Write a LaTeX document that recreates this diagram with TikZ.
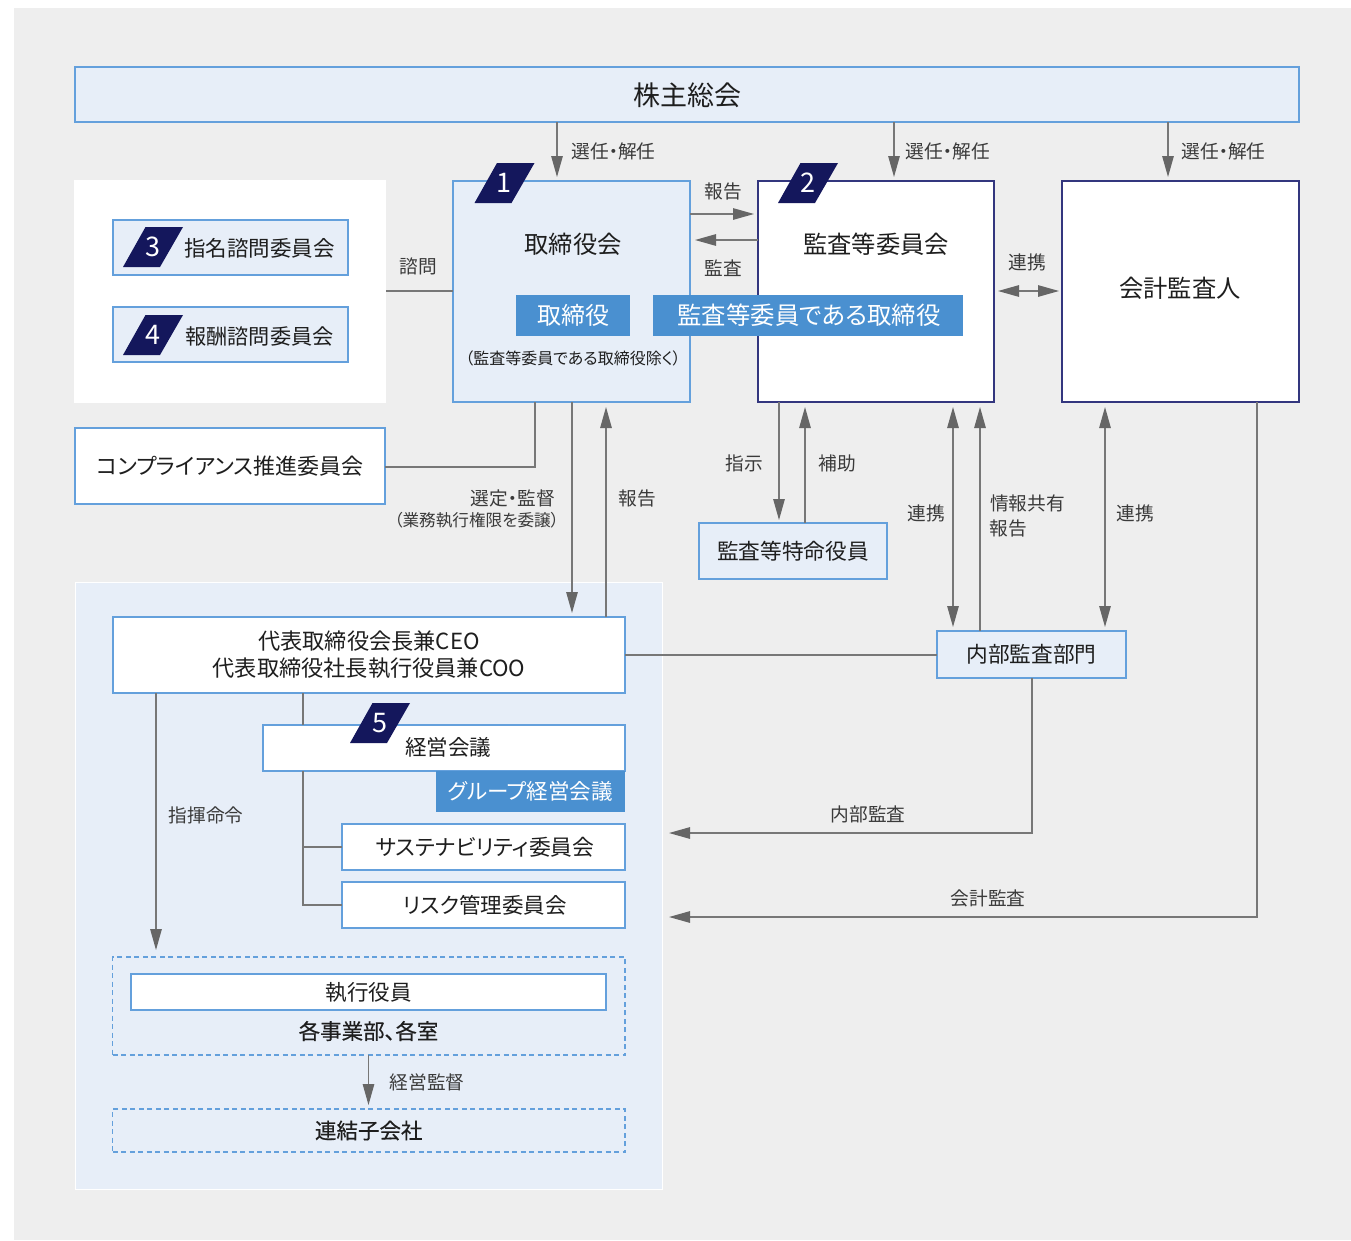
\documentclass[tikz,border=0pt]{standalone}
\usepackage{fontspec}
\setmainfont[RawFeature=+palt]{Noto Sans CJK JP}
\newfontfamily\medfont[RawFeature=+palt,FakeBold=0.35]{Noto Sans CJK JP}
\usetikzlibrary{arrows.meta,calc}
\definecolor{bggray}{HTML}{EEEEEE}
\definecolor{paleblue}{HTML}{E7EEF8}
\definecolor{edgeblue}{HTML}{64A0DC}
\definecolor{solidblue}{HTML}{4A90D0}
\definecolor{navy}{HTML}{14175C}
\definecolor{navyline}{HTML}{33367E}
\definecolor{linegray}{HTML}{777777}
\definecolor{headgray}{HTML}{666666}
\definecolor{labelgray}{HTML}{3A3A3A}
\definecolor{textdark}{HTML}{1E1E1E}
\newcommand{\fsz}[1]{\fontsize{#1}{#1}\selectfont}
\newcommand{\bx}[7]{\node[#6,minimum width={#4-#2},minimum height={#5-#3}] (#1) at ({(#2+#4)/2},{(#3+#5)/2}) {#7};}
\newcommand{\badge}[4]{\fill[navy] (#2-30,#3+20) -- (#2+7,#3+20) -- (#2+30,#3-20) -- (#2-7.5,#3-20) -- cycle;
  \node[badgetext] (#1) at (#2-0.5,#3) {#4};}
\tikzset{
  x=1pt,y=-1pt,
  base/.style={inner sep=0pt,outer sep=0pt,align=center,text=textdark},
  palebox/.style={base,draw=edgeblue,fill=paleblue,line width=1.05pt},
  whitebox/.style={base,draw=edgeblue,fill=white,line width=1.05pt},
  navybox/.style={base,draw=navyline,fill=white,line width=1.05pt},
  solidbox/.style={base,fill=solidblue,text=white},
  dashbox/.style={base,draw=edgeblue,line width=1.35pt,dash pattern=on 5pt off 3.5pt},
  panel/.style={base,fill=paleblue,draw=white,line width=1pt},
  plain/.style={base,fill=white},
  boxtext/.style={base,font=\fsz{21.5}},
  headtext/.style={base,font=\fsz{24.3}},
  lab/.style={base,text=labelgray,font=\fsz{18.7}},
  badgetext/.style={base,text=white,font=\fsz{27}},
  conn/.style={draw=linegray,line width=1.2pt},
  arr/.style={conn,-{Triangle[length=21pt,width=11.5pt,color=headgray]}},
  arrh/.style={conn,-{Triangle[length=21pt,width=11.5pt,color=headgray]}},
  arrb/.style={conn,{Triangle[length=21pt,width=11.5pt,color=headgray]}-{Triangle[length=21pt,width=11.5pt,color=headgray]}},
}
\begin{document}
\begin{tikzpicture}
\useasboundingbox (0,0) rectangle (1351,1240);
\fill[bggray] (14,8) rectangle (1351,1240);
\bx{advpanel}{74}{180}{386}{403}{plain}{}
\bx{lower}{75}{582}{662.5}{1189}{panel}{}
\bx{soukai}{75}{67}{1299}{122}{palebox}{}
\bx{shimei}{113}{220}{348}{275}{palebox}{}
\bx{houshu}{113}{307}{348}{362}{palebox}{}
\bx{comp}{75}{428}{385}{504}{whitebox,font=\fsz{22}}{コンプライアンス推進委員会}
\bx{tori}{453}{181}{690}{402}{palebox}{}
\bx{kansa}{758}{181}{994}{402}{navybox}{}
\bx{kaikei}{1062}{181}{1299}{402}{navybox}{}
\bx{toku}{699}{523}{887}{579}{palebox,font=\fsz{21.7}}{監査等特命役員}
\bx{naibu}{937}{631}{1126}{678}{palebox,font=\fsz{21.7}}{内部監査部門}
\bx{ceo}{113}{617}{625}{693}{whitebox,font=\fsz{22.2},align=center}{代表取締役会長兼CEO\\[5pt]代表取締役社長執行役員兼COO}
\bx{keiei}{263}{725}{625}{771}{whitebox}{}
\bx{group}{435.5}{771}{625}{812}{solidbox,font=\fsz{21.5}}{グループ経営会議}
\bx{sus}{342}{824}{625}{870}{whitebox}{}
\bx{risk}{342}{882}{625}{928}{whitebox}{}
\bx{jigyo}{112.5}{957}{625}{1055}{dashbox}{}
\bx{shikko}{131}{974}{606}{1010}{whitebox,font=\fsz{21.5}}{執行役員}
\bx{renketsu}{112.5}{1109}{625}{1152}{dashbox,font=\medfont\fsz{21.5}}{連結子会社}
\node[boxtext,anchor=center,font=\medfont\fsz{21.5}] (jigyot) at (368.5,1031) {各事業部、各室};
\node[base,font=\fsz{27}] (soukait) at (687,95) {株主総会};
\node[headtext] (kaikeit) at (1180,288) {会計監査人};
\node[boxtext,font=\fsz{21.8}] (sust) at (485,847) {サステナビリティ委員会};
\node[boxtext] (riskt) at (485,905) {リスク管理委員会};
\coordinate (a1) at (557,177);
\coordinate (a2) at (894,177);
\coordinate (a3) at (1168,177);
\coordinate (r1) at (754,214);
\coordinate (r2) at (695,240);
\coordinate (t1) at (535,467);
\coordinate (d1) at (572,613);
\coordinate (u1) at (606,407);
\coordinate (d2) at (779,520);
\coordinate (u2) at (805,407);
\coordinate (d3) at (953,407);
\coordinate (d3b) at (953,627);
\coordinate (u3) at (980,407);
\coordinate (d4) at (1105,407);
\coordinate (d4b) at (1105,627);
\coordinate (l1) at (998,291);
\coordinate (l2) at (1059,291);
\coordinate (k1) at (1257,917);
\coordinate (k2) at (669,917);
\coordinate (n1) at (1032,833);
\coordinate (n2) at (669,833);
\coordinate (h1) at (303,905);
\coordinate (h2) at (303,847);
\coordinate (h0) at (303,725);
\coordinate (s1) at (156,950);
\coordinate (g1) at (368.5,1105);
\coordinate (c1) at (625,655);
\draw[arr] (soukai.south -| a1) -- (a1);
\draw[arr] (soukai.south -| a2) -- (a2);
\draw[arr] (soukai.south -| a3) -- (a3);
\draw[arrh] (tori.east |- r1) -- (r1);
\draw[arrh] (kansa.west |- r2) -- (r2);
\draw[conn] (advpanel.east |- 0,291) -- (tori.west |- 0,291);
\draw[conn] (comp.east |- t1) -- (t1) -- (tori.south -| t1);
\draw[arr] (tori.south -| d1) -- (d1);
\draw[arr] (ceo.north -| u1) -- (u1);
\draw[arr] (kansa.south -| d2) -- (d2);
\draw[arr] (toku.north -| u2) -- (u2);
\draw[arrb] (d3) -- (d3b);
\draw[arr] (naibu.north -| u3) -- (u3);
\draw[arrb] (d4) -- (d4b);
\draw[arrb] (l1) -- (l2);
\draw[arr] (kaikei.south -| k1) -- (k1) -- (k2);
\draw[arr] (naibu.south -| n1) -- (n1) -- (n2);
\draw[conn] (ceo.east |- c1) -- (naibu.west |- c1);
\draw[conn] (ceo.south -| h0) -- (h0);
\draw[conn] (keiei.south -| h1) -- (h1) -- (risk.west |- h1);
\draw[conn] (h2) -- (sus.west |- h2);
\draw[arr] (ceo.south -| s1) -- (s1);
\draw[arr] (jigyo.south -| g1) -- (g1);
\bx{torisub}{516}{295}{630}{336}{solidbox,font=\fsz{24}}{取締役}
\bx{kansasub}{653}{295}{963}{336}{solidbox,font=\fsz{24.4}}{\hspace{2pt}監査等委員である取締役}
\node[headtext] (torit) at (573,244) {取締役会};
\node[headtext] (kansat) at (876,244) {監査等委員会};
\node[base,font=\fsz{16}] (torinote) at (573,358) {（監査等委員である取締役除く）};
\node[boxtext] (keieit) at (448,747) {経営会議};
\node[boxtext] (shimeit) at (259.5,248) {指名諮問委員会};
\node[boxtext,font=\fsz{21.2}] (houshut) at (259.5,336) {報酬諮問委員会};
\badge{b1}{504.5}{183}{1}
\badge{b2}{808}{183}{2}
\badge{b3}{153}{247}{3}
\badge{b4}{153}{335}{4}
\badge{b5}{380}{723}{5}
\node[lab] (la1) at (613.5,151) {選任・解任};
\node[lab] (la2) at (948,151) {選任・解任};
\node[lab] (la3) at (1223.5,151) {選任・解任};
\node[lab] (la4) at (723,191) {報告};
\node[lab] (la5) at (723,268) {監査};
\node[lab] (la6) at (418,266) {諮問};
\node[lab] (la7) at (1027,262) {連携};
\node[lab] (la8) at (744,463) {指示};
\node[lab] (la9) at (837,463) {補助};
\node[lab] (la10) at (926,513) {連携};
\node[lab] (la11) at (1027.5,503) {情報共有};
\node[lab] (la12) at (1008.5,528) {報告};
\node[lab] (la13) at (1135.5,513) {連携};
\node[lab,anchor=east] (la14) at (555,498) {選定・監督};
\node[lab,anchor=east,font=\fsz{16.6}] (la15) at (559,520) {（業務執行権限を委譲）};
\node[lab] (la16) at (637,498) {報告};
\node[lab] (la17) at (868,814) {内部監査};
\node[lab] (la18) at (988,898) {会計監査};
\node[lab] (la19) at (206,815) {指揮命令};
\node[lab] (la20) at (427,1082) {経営監督};
\end{tikzpicture}
\end{document}
